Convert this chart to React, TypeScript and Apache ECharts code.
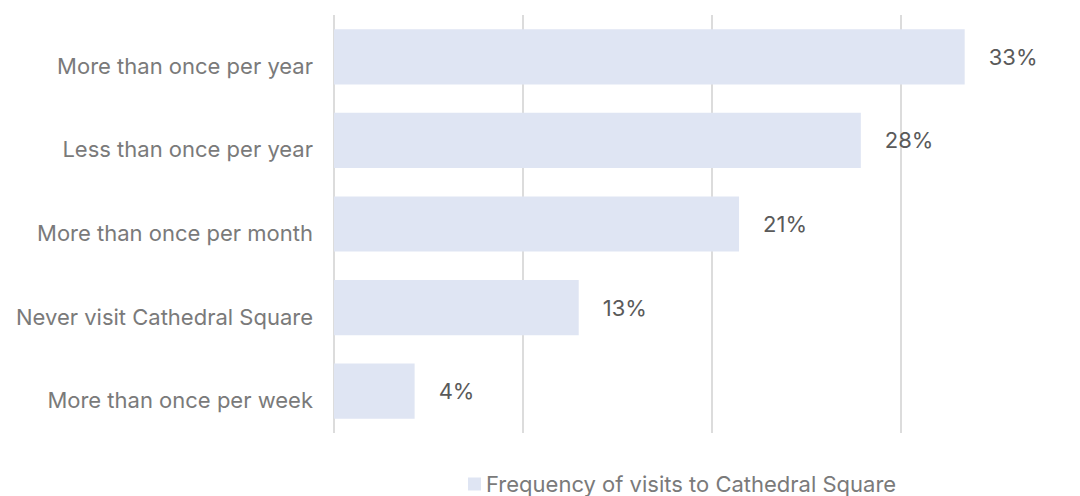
import React, { useEffect, useRef } from "react";
import * as echarts from "echarts";

const categories = [
  "More than once per year",
  "Less than once per year",
  "More than once per month",
  "Never visit Cathedral Square",
  "More than once per week",
];
const values = [33.4, 27.9, 21.45, 12.96, 4.27];
const valueLabels = ["33%", "28%", "21%", "13%", "4%"];
const seriesName = "Frequency of visits to Cathedral Square";

const FONT = "Inter, 'Noto Sans', sans-serif";

export default function App() {
  const ref = useRef<HTMLDivElement>(null);
  useEffect(() => {
    if (!ref.current) return;
    const chart = echarts.init(ref.current, undefined, { renderer: "svg" });
    chart.setOption({
      animation: false,
      textStyle: { fontFamily: FONT },
      grid: { left: 334, right: 46, top: 15, bottom: 63, containLabel: false },
      legend: {
        left: 463,
        top: 468,
        padding: 5,
        itemWidth: 13,
        itemHeight: 13,
        itemGap: 6,
        icon: "rect",
        textStyle: { color: "#7a7a7a", fontSize: 22, lineHeight: 16, fontFamily: FONT },
        data: [seriesName],
      },
      xAxis: {
        type: "value",
        min: 0,
        max: 37.07,
        interval: 10,
        axisLabel: { show: false },
        axisLine: { show: false },
        axisTick: { show: false },
        splitLine: { show: true, showMaxLine: false, lineStyle: { color: "#dcdcdc", width: 2 } },
      },
      yAxis: {
        type: "category",
        data: categories,
        inverse: true,
        axisLine: { show: false },
        axisTick: { show: false },
        axisLabel: {
          color: "#7a7a7a",
          fontSize: 22,
          margin: 21,
          fontFamily: FONT,
          verticalAlign: "top",
          lineHeight: 18,
        },
      },
      series: [
        {
          name: seriesName,
          type: "bar",
          data: values,
          barWidth: "66%",
          itemStyle: { color: "#dfe5f3" },
          label: {
            show: true,
            position: "right",
            distance: 24,
            color: "#5a5a5a",
            fontSize: 22,
            fontFamily: FONT,
            formatter: (p: any) => valueLabels[p.dataIndex],
          },
        },
      ],
    });
    return () => chart.dispose();
  }, []);
  return (
    <div
      ref={ref}
      style={{ position: "fixed", left: 0, top: 0, width: 1080, height: 496, background: "#fff" }}
    />
  );
}
